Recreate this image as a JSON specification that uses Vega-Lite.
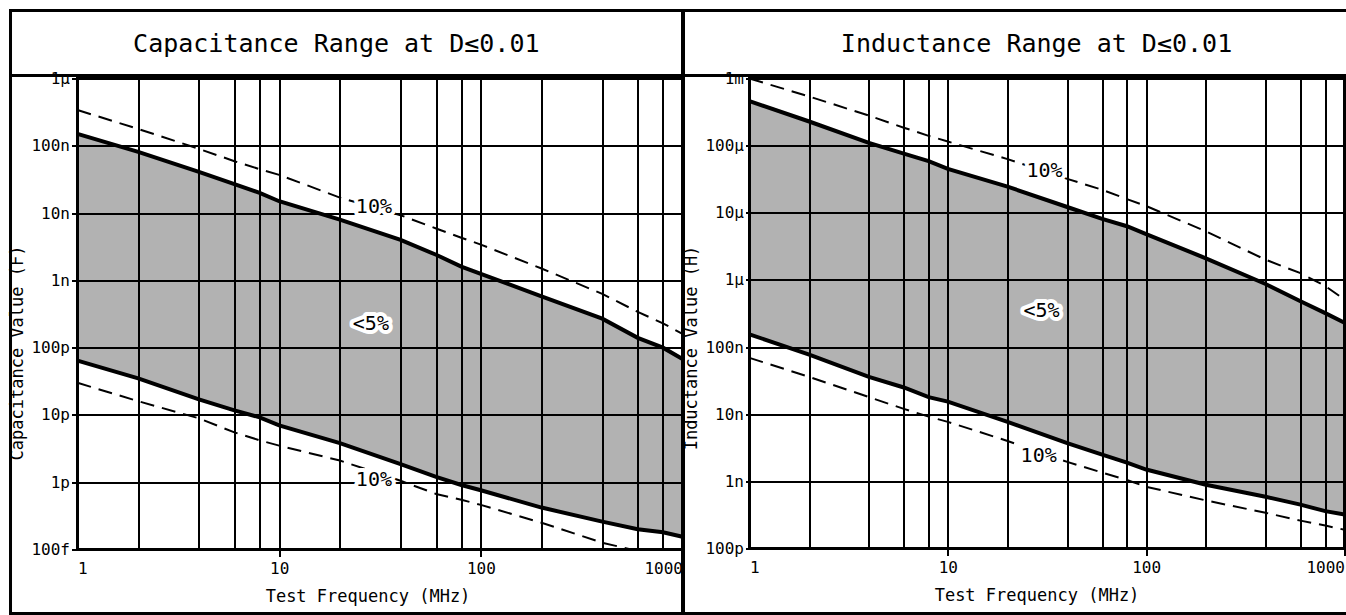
{
  "$schema": "https://vega.github.io/schema/vega-lite/v6.json",
  "padding": {"left": 6.5, "top": 6.5, "right": 0, "bottom": 0},
  "background": "white",
  "spacing": -12,
  "config": {
    "view": {"stroke": "black", "strokeWidth": 3},
    "font": "DejaVu Sans Mono",
    "axis": {
      "gridColor": "black", "gridWidth": 2, "gridOpacity": 1, "domain": false,
      "tickColor": "black", "tickWidth": 2, "labelColor": "black",
      "labelFont": "DejaVu Sans Mono", "titleFont": "DejaVu Sans Mono",
      "titleFontWeight": "normal", "titleColor": "black", "labelOverlap": false
    }
  },
  "datasets": {
    "cap": [
      {"f": 1, "hi": 1.5e-7, "lo": 6.4e-11, "hi10": 3.4e-7, "lo10": 3.0e-11},
      {"f": 2, "hi": 8.1e-8, "lo": 3.5e-11, "hi10": 1.78e-7, "lo10": 1.6e-11},
      {"f": 4, "hi": 4.1e-8, "lo": 1.7e-11, "hi10": 9.0e-8, "lo10": 8.9e-12},
      {"f": 6, "hi": 2.7e-8, "lo": 1.17e-11, "hi10": 5.9e-8, "lo10": 5.5e-12},
      {"f": 8, "hi": 2.0e-8, "lo": 9.2e-12, "hi10": 4.5e-8, "lo10": 4.2e-12},
      {"f": 10, "hi": 1.5e-8, "lo": 7.0e-12, "hi10": 3.7e-8, "lo10": 3.5e-12},
      {"f": 20, "hi": 8.0e-9, "lo": 3.8e-12, "hi10": 1.7e-8, "lo10": 2.1e-12},
      {"f": 40, "hi": 4.0e-9, "lo": 1.86e-12, "hi10": 9.3e-9, "lo10": 1.05e-12},
      {"f": 60, "hi": 2.4e-9, "lo": 1.2e-12, "hi10": 5.9e-9, "lo10": 6.7e-13},
      {"f": 80, "hi": 1.6e-9, "lo": 9.1e-13, "hi10": 4.3e-9, "lo10": 5.5e-13},
      {"f": 100, "hi": 1.25e-9, "lo": 7.6e-13, "hi10": 3.4e-9, "lo10": 4.6e-13},
      {"f": 200, "hi": 5.8e-10, "lo": 4.2e-13, "hi10": 1.5e-9, "lo10": 2.5e-13},
      {"f": 400, "hi": 2.7e-10, "lo": 2.6e-13, "hi10": 6.3e-10, "lo10": 1.26e-13},
      {"f": 600, "hi": 1.4e-10, "lo": 2.0e-13, "hi10": 3.4e-10, "lo10": 9.5e-14},
      {"f": 800, "hi": 1.0e-10, "lo": 1.8e-13, "hi10": 2.3e-10, "lo10": 8.0e-14},
      {"f": 1000, "hi": 6.8e-11, "lo": 1.55e-13, "hi10": 1.6e-10, "lo10": 6.5e-14}
    ],
    "ind": [
      {"f": 1, "hi": 4.6e-4, "lo": 1.55e-7, "hi10": 1.0e-3, "lo10": 6.9e-8},
      {"f": 2, "hi": 2.29e-4, "lo": 7.7e-8, "hi10": 5.4e-4, "lo10": 3.6e-8},
      {"f": 4, "hi": 1.1e-4, "lo": 3.6e-8, "hi10": 2.8e-4, "lo10": 1.8e-8},
      {"f": 6, "hi": 7.6e-5, "lo": 2.5e-8, "hi10": 1.85e-4, "lo10": 1.2e-8},
      {"f": 8, "hi": 5.9e-5, "lo": 1.8e-8, "hi10": 1.4e-4, "lo10": 9.2e-9},
      {"f": 10, "hi": 4.5e-5, "lo": 1.54e-8, "hi10": 1.15e-4, "lo10": 7.7e-9},
      {"f": 20, "hi": 2.45e-5, "lo": 7.7e-9, "hi10": 6.3e-5, "lo10": 4.0e-9},
      {"f": 40, "hi": 1.22e-5, "lo": 3.7e-9, "hi10": 3.2e-5, "lo10": 1.95e-9},
      {"f": 60, "hi": 8.1e-6, "lo": 2.5e-9, "hi10": 2.2e-5, "lo10": 1.35e-9},
      {"f": 80, "hi": 6.3e-6, "lo": 1.9e-9, "hi10": 1.6e-5, "lo10": 1.05e-9},
      {"f": 100, "hi": 4.8e-6, "lo": 1.5e-9, "hi10": 1.26e-5, "lo10": 8.3e-10},
      {"f": 200, "hi": 2.1e-6, "lo": 8.9e-10, "hi10": 5.3e-6, "lo10": 5.2e-10},
      {"f": 400, "hi": 8.7e-7, "lo": 5.9e-10, "hi10": 2.0e-6, "lo10": 3.4e-10},
      {"f": 600, "hi": 4.8e-7, "lo": 4.5e-10, "hi10": 1.26e-6, "lo10": 2.6e-10},
      {"f": 800, "hi": 3.2e-7, "lo": 3.6e-10, "hi10": 8.1e-7, "lo10": 2.2e-10},
      {"f": 1000, "hi": 2.3e-7, "lo": 3.2e-10, "hi10": 5.1e-7, "lo10": 1.9e-10}
    ],
    "capLab": [
      {"f": 29.5, "v": 1.25e-8, "t": "10%"},
      {"f": 28.5, "v": 2.24e-10, "t": "<5%"},
      {"f": 29.5, "v": 1.07e-12, "t": "10%"}
    ],
    "indLab": [
      {"f": 30.7, "v": 4.2e-5, "t": "10%"},
      {"f": 29.7, "v": 3.5e-7, "t": "<5%"},
      {"f": 28.7, "v": 2.4e-9, "t": "10%"}
    ]
  },
  "hconcat": [
    {
      "width": 605, "height": 471,
      "layer": [
        {"data": {"name": "cap"},
         "mark": {"type": "area", "color": "black", "fillOpacity": 0.3},
         "encoding": {
           "x": {"field": "f", "type": "quantitative", "scale": {"type": "log", "domain": [1, 1000]},
                 "axis": {"values": [1, 2, 4, 6, 8, 10, 20, 40, 60, 80, 100, 200, 400, 600, 800, 1000],
                          "labelExpr": "indexof([1,10,100,1000], datum.value) >= 0 ? datum.value : ''",
                          "tickOpacity": {"condition": {"test": "indexof([10,100,1000], datum.value) >= 0", "value": 1}, "value": 0},
                          "tickSize": 7, "labelFontSize": 16, "labelPadding": 4, "labelFlush": true,
                          "title": "Test Frequency (MHz)", "titleFontSize": 17, "titlePadding": 12, "titleX": 290}},
           "y": {"field": "hi", "type": "quantitative", "scale": {"type": "log", "domain": [1e-13, 1e-6]},
                 "axis": {"values": [1e-13, 1e-12, 1e-11, 1e-10, 1e-9, 1e-8, 1e-7, 1e-6],
                          "labelExpr": "format(datum.value, '~s')",
                          "tickSize": 6, "labelFontSize": 16, "labelPadding": 2,
                          "title": "Capacitance Value (F)", "titleFontSize": 17, "titlePadding": 4, "titleY": 274}},
           "y2": {"field": "lo"}
         }},
        {"data": {"values": [{}]},
         "mark": {"type": "rect", "filled": false, "color": "black", "strokeWidth": 3},
         "encoding": {
           "x": {"datum": 0.4654, "type": "quantitative", "scale": {"type": "log", "domain": [1, 1000]}},
           "x2": {"datum": 1000},
           "y": {"datum": 1.0245e-5, "type": "quantitative", "scale": {"type": "log", "domain": [1e-13, 1e-6]}},
           "y2": {"datum": 1.12e-14}
         }},
        {"data": {"values": [{}]},
         "mark": {"type": "rule", "strokeWidth": 3, "color": "black"},
         "encoding": {
           "x": {"datum": 0.4654, "type": "quantitative", "scale": {"type": "log", "domain": [1, 1000]}},
           "x2": {"datum": 1000},
           "y": {"datum": 1.108e-6, "type": "quantitative", "scale": {"type": "log", "domain": [1e-13, 1e-6]}}
         }},
        {"data": {"values": [{}]},
         "mark": {"type": "text", "fontSize": 25, "color": "black", "font": "DejaVu Sans Mono"},
         "encoding": {
           "x": {"datum": 19.2, "type": "quantitative", "scale": {"type": "log", "domain": [1, 1000]}},
           "y": {"datum": 3.31e-6, "type": "quantitative", "scale": {"type": "log", "domain": [1e-13, 1e-6]}},
           "text": {"value": "Capacitance Range at D≤0.01"}
         }},
        {"data": {"name": "cap"},
         "mark": {"type": "line", "color": "black", "strokeWidth": 4},
         "encoding": {
           "x": {"field": "f", "type": "quantitative", "scale": {"type": "log", "domain": [1, 1000]}},
           "y": {"field": "hi", "type": "quantitative", "scale": {"type": "log", "domain": [1e-13, 1e-6]}}
         }},
        {"data": {"name": "cap"},
         "mark": {"type": "line", "color": "black", "strokeWidth": 4},
         "encoding": {
           "x": {"field": "f", "type": "quantitative", "scale": {"type": "log", "domain": [1, 1000]}},
           "y": {"field": "lo", "type": "quantitative", "scale": {"type": "log", "domain": [1e-13, 1e-6]}}
         }},
        {"data": {"name": "cap"},
         "mark": {"type": "line", "color": "black", "strokeWidth": 2, "strokeDash": [14, 8], "clip": true},
         "encoding": {
           "x": {"field": "f", "type": "quantitative", "scale": {"type": "log", "domain": [1, 1000]}},
           "y": {"field": "hi10", "type": "quantitative", "scale": {"type": "log", "domain": [1e-13, 1e-6]}}
         }},
        {"data": {"name": "cap"},
         "mark": {"type": "line", "color": "black", "strokeWidth": 2, "strokeDash": [14, 8], "clip": true},
         "encoding": {
           "x": {"field": "f", "type": "quantitative", "scale": {"type": "log", "domain": [1, 1000]}},
           "y": {"field": "lo10", "type": "quantitative", "scale": {"type": "log", "domain": [1e-13, 1e-6]}}
         }},
        {"data": {"name": "capLab"},
         "mark": {"type": "text", "fontSize": 20, "font": "DejaVu Sans Mono", "fill": "white", "stroke": "white", "strokeWidth": 8, "strokeJoin": "round"},
         "encoding": {
           "x": {"field": "f", "type": "quantitative", "scale": {"type": "log", "domain": [1, 1000]}},
           "y": {"field": "v", "type": "quantitative", "scale": {"type": "log", "domain": [1e-13, 1e-6]}},
           "text": {"field": "t"}
         }},
        {"data": {"name": "capLab"},
         "mark": {"type": "text", "fontSize": 20, "font": "DejaVu Sans Mono", "color": "black"},
         "encoding": {
           "x": {"field": "f", "type": "quantitative", "scale": {"type": "log", "domain": [1, 1000]}},
           "y": {"field": "v", "type": "quantitative", "scale": {"type": "log", "domain": [1e-13, 1e-6]}},
           "text": {"field": "t"}
         }}
      ]
    },
    {
      "width": 595, "height": 470,
      "layer": [
        {"data": {"name": "ind"},
         "mark": {"type": "area", "color": "black", "fillOpacity": 0.3},
         "encoding": {
           "x": {"field": "f", "type": "quantitative", "scale": {"type": "log", "domain": [1, 1000]},
                 "axis": {"values": [1, 2, 4, 6, 8, 10, 20, 40, 60, 80, 100, 200, 400, 600, 800, 1000],
                          "labelExpr": "indexof([1,10,100,1000], datum.value) >= 0 ? datum.value : ''",
                          "tickOpacity": {"condition": {"test": "indexof([10,100,1000], datum.value) >= 0", "value": 1}, "value": 0},
                          "tickSize": 7, "labelFontSize": 16, "labelPadding": 4, "labelFlush": true,
                          "title": "Test Frequency (MHz)", "titleFontSize": 17, "titlePadding": 12, "titleX": 287}},
           "y": {"field": "hi", "type": "quantitative", "scale": {"type": "log", "domain": [1e-10, 1e-3]},
                 "axis": {"values": [1e-10, 1e-9, 1e-8, 1e-7, 1e-6, 1e-5, 1e-4, 1e-3],
                          "labelExpr": "format(datum.value, '~s')",
                          "tickSize": 4, "labelFontSize": 16, "labelPadding": 2,
                          "title": "Inductance Value (H)", "titleFontSize": 17, "titlePadding": 4, "titleY": 269}},
           "y2": {"field": "lo"}
         }},
        {"data": {"values": [{}]},
         "mark": {"type": "rect", "filled": false, "color": "black", "strokeWidth": 3},
         "encoding": {
           "x": {"datum": 0.4648, "type": "quantitative", "scale": {"type": "log", "domain": [1, 1000]}},
           "x2": {"datum": 2930},
           "y": {"datum": 0.0103, "type": "quantitative", "scale": {"type": "log", "domain": [1e-10, 1e-3]}},
           "y2": {"datum": 1.076e-11}
         }},
        {"data": {"values": [{}]},
         "mark": {"type": "rule", "strokeWidth": 3, "color": "black"},
         "encoding": {
           "x": {"datum": 0.4648, "type": "quantitative", "scale": {"type": "log", "domain": [1, 1000]}},
           "x2": {"datum": 2930},
           "y": {"datum": 1.108e-3, "type": "quantitative", "scale": {"type": "log", "domain": [1e-10, 1e-3]}}
         }},
        {"data": {"values": [{}]},
         "mark": {"type": "text", "fontSize": 25, "color": "black", "font": "DejaVu Sans Mono"},
         "encoding": {
           "x": {"datum": 28.0, "type": "quantitative", "scale": {"type": "log", "domain": [1, 1000]}},
           "y": {"datum": 3.31e-3, "type": "quantitative", "scale": {"type": "log", "domain": [1e-10, 1e-3]}},
           "text": {"value": "Inductance Range at D≤0.01"}
         }},
        {"data": {"name": "ind"},
         "mark": {"type": "line", "color": "black", "strokeWidth": 4},
         "encoding": {
           "x": {"field": "f", "type": "quantitative", "scale": {"type": "log", "domain": [1, 1000]}},
           "y": {"field": "hi", "type": "quantitative", "scale": {"type": "log", "domain": [1e-10, 1e-3]}}
         }},
        {"data": {"name": "ind"},
         "mark": {"type": "line", "color": "black", "strokeWidth": 4},
         "encoding": {
           "x": {"field": "f", "type": "quantitative", "scale": {"type": "log", "domain": [1, 1000]}},
           "y": {"field": "lo", "type": "quantitative", "scale": {"type": "log", "domain": [1e-10, 1e-3]}}
         }},
        {"data": {"name": "ind"},
         "mark": {"type": "line", "color": "black", "strokeWidth": 2, "strokeDash": [14, 8], "clip": true},
         "encoding": {
           "x": {"field": "f", "type": "quantitative", "scale": {"type": "log", "domain": [1, 1000]}},
           "y": {"field": "hi10", "type": "quantitative", "scale": {"type": "log", "domain": [1e-10, 1e-3]}}
         }},
        {"data": {"name": "ind"},
         "mark": {"type": "line", "color": "black", "strokeWidth": 2, "strokeDash": [14, 8], "clip": true},
         "encoding": {
           "x": {"field": "f", "type": "quantitative", "scale": {"type": "log", "domain": [1, 1000]}},
           "y": {"field": "lo10", "type": "quantitative", "scale": {"type": "log", "domain": [1e-10, 1e-3]}}
         }},
        {"data": {"name": "indLab"},
         "mark": {"type": "text", "fontSize": 20, "font": "DejaVu Sans Mono", "fill": "white", "stroke": "white", "strokeWidth": 8, "strokeJoin": "round"},
         "encoding": {
           "x": {"field": "f", "type": "quantitative", "scale": {"type": "log", "domain": [1, 1000]}},
           "y": {"field": "v", "type": "quantitative", "scale": {"type": "log", "domain": [1e-10, 1e-3]}},
           "text": {"field": "t"}
         }},
        {"data": {"name": "indLab"},
         "mark": {"type": "text", "fontSize": 20, "font": "DejaVu Sans Mono", "color": "black"},
         "encoding": {
           "x": {"field": "f", "type": "quantitative", "scale": {"type": "log", "domain": [1, 1000]}},
           "y": {"field": "v", "type": "quantitative", "scale": {"type": "log", "domain": [1e-10, 1e-3]}},
           "text": {"field": "t"}
         }}
      ]
    }
  ]
}
